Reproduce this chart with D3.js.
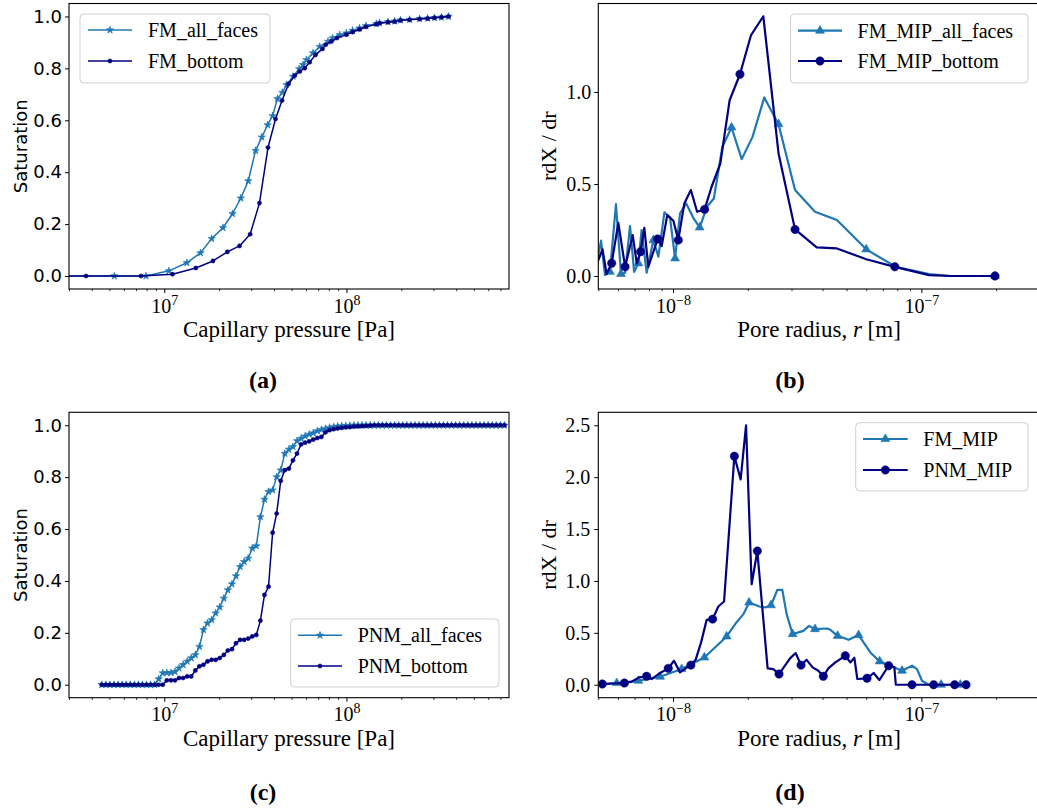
<!DOCTYPE html>
<html>
<head>
<meta charset="utf-8">
<script src="https://cdn.jsdelivr.net/npm/d3@7"></script>
<style>
  body { margin: 0; background: #fff; }
  svg { display: block; }
</style>
</head>
<body>
<svg id="fig" width="1037" height="809"></svg>
<script>
// ---------------- (a) FM drainage curves ----------------
const fmAllP = [0, 5.32e6, 7.94e6, 1.06e7, 1.33e7, 1.58e7, 1.82e7, 2.10e7, 2.37e7, 2.63e7, 2.89e7, 3.17e7, 3.43e7, 3.69e7, 3.93e7, 4.18e7, 4.45e7, 4.69e7, 5.09e7, 5.50e7, 5.78e7, 6.03e7, 6.55e7, 7.13e7, 7.92e7, 8.40e7, 9.18e7, 9.99e7, 1.08e8, 1.18e8, 1.28e8, 1.46e8, 1.52e8, 1.69e8, 1.84e8, 1.98e8, 2.22e8, 2.52e8, 2.79e8, 3.04e8, 3.32e8, 3.63e8];
const fmAllS = [0, 0, 0, 0.020, 0.051, 0.089, 0.144, 0.186, 0.240, 0.300, 0.366, 0.483, 0.535, 0.582, 0.617, 0.683, 0.707, 0.737, 0.769, 0.798, 0.814, 0.833, 0.859, 0.884, 0.904, 0.917, 0.929, 0.936, 0.946, 0.955, 0.964, 0.972, 0.975, 0.979, 0.982, 0.986, 0.988, 0.991, 0.993, 0.995, 0.997, 1.000];
const fmBotP = [0, 3.72e6, 7.45e6, 1.11e7, 1.49e7, 1.85e7, 2.22e7, 2.59e7, 2.96e7, 3.33e7, 3.71e7, 4.08e7, 4.43e7, 4.81e7, 5.20e7, 5.54e7, 5.90e7, 6.28e7, 6.76e7, 7.38e7, 7.69e7, 8.27e7, 8.87e7, 9.99e7, 1.08e8, 1.18e8, 1.28e8, 1.46e8, 1.52e8, 1.69e8, 1.84e8, 1.98e8, 2.22e8, 2.52e8, 2.79e8, 3.04e8, 3.32e8, 3.63e8];
const fmBotS = [0, 0, 0, 0.007, 0.031, 0.058, 0.093, 0.116, 0.161, 0.281, 0.495, 0.605, 0.676, 0.740, 0.772, 0.788, 0.801, 0.824, 0.852, 0.875, 0.891, 0.904, 0.917, 0.930, 0.940, 0.950, 0.960, 0.970, 0.974, 0.978, 0.980, 0.985, 0.987, 0.990, 0.992, 0.995, 0.997, 1.000];

// ---------------- (b) FM pore-size distributions ----------------
const fmMipAllR = [4.9e-9, 5.13e-9, 5.32e-9, 5.57e-9, 5.89e-9, 6.17e-9, 6.41e-9, 6.71e-9, 6.97e-9, 7.25e-9, 7.47e-9, 7.83e-9, 8.33e-9, 8.73e-9, 9.23e-9, 9.72e-9, 1.019e-8, 1.067e-8, 1.13e-8, 1.21e-8, 1.28e-8, 1.37e-8, 1.46e-8, 1.58e-8, 1.72e-8, 1.89e-8, 2.09e-8, 2.33e-8, 2.66e-8, 3.10e-8, 3.73e-8, 4.57e-8, 6.00e-8, 7.88e-8, 1.075e-7, 1.31e-7, 1.98e-7];
const fmMipAllY = [0.050, 0.192, 0.005, 0.023, 0.391, 0.011, 0.018, 0.271, 0.023, 0.069, 0.250, 0.018, 0.195, 0.105, 0.346, 0.318, 0.096, 0.340, 0.394, 0.313, 0.264, 0.376, 0.421, 0.702, 0.807, 0.635, 0.756, 0.970, 0.825, 0.467, 0.349, 0.304, 0.145, 0.050, 0.011, 0.000, 0.000];
const fmMipAllMarks = [3, 5, 9, 12, 16, 20, 24, 28, 32, 36];
const fmMipBotR = [4.9e-9, 5.20e-9, 5.40e-9, 5.66e-9, 6.02e-9, 6.41e-9, 6.88e-9, 7.14e-9, 7.40e-9, 7.66e-9, 7.95e-9, 8.67e-9, 9.00e-9, 9.48e-9, 1.003e-8, 1.05e-8, 1.11e-8, 1.18e-8, 1.25e-8, 1.34e-8, 1.43e-8, 1.55e-8, 1.69e-8, 1.86e-8, 2.06e-8, 2.31e-8, 2.66e-8, 3.10e-8, 3.79e-8, 4.57e-8, 6.00e-8, 7.82e-8, 1.075e-7, 1.31e-7, 1.98e-7];
const fmMipBotY = [0.055, 0.145, 0.011, 0.069, 0.289, 0.050, 0.222, 0.069, 0.132, 0.262, 0.050, 0.201, 0.163, 0.331, 0.300, 0.195, 0.394, 0.467, 0.349, 0.362, 0.485, 0.611, 0.955, 1.096, 1.308, 1.411, 0.666, 0.253, 0.156, 0.150, 0.091, 0.050, 0.005, 0.000, 0.000];
const fmMipBotMarks = [3, 5, 8, 11, 15, 19, 23, 27, 31, 34];

// ---------------- (c) PNM drainage curves ----------------
const pnmP = [4.54e6, 4.78e6, 5.03e6, 5.30e6, 5.58e6, 5.87e6, 6.18e6, 6.51e6, 6.85e6, 7.21e6,
  7.59e6, 7.99e6, 8.41e6, 8.86e6, 9.32e6, 9.81e6, 1.033e7, 1.088e7, 1.145e7, 1.205e7,
  1.269e7, 1.336e7, 1.406e7, 1.481e7, 1.559e7, 1.641e7, 1.727e7, 1.820e7, 1.915e7, 2.016e7,
  2.122e7, 2.234e7, 2.352e7, 2.476e7, 2.606e7, 2.744e7, 2.888e7, 3.041e7, 3.201e7, 3.370e7,
  3.548e7, 3.735e7, 3.932e7, 4.139e7, 4.357e7, 4.587e7, 4.829e7, 5.084e7, 5.352e7, 5.634e7,
  5.931e7, 6.244e7, 6.574e7, 6.920e7, 7.285e7, 7.670e7, 8.074e7, 8.500e7, 8.949e7, 9.420e7,
  9.917e7, 1.044e8, 1.099e8, 1.157e8, 1.218e8, 1.282e8, 1.350e8, 1.421e8, 1.496e8, 1.575e8,
  1.658e8, 1.746e8, 1.838e8, 1.935e8, 2.037e8, 2.144e8, 2.257e8, 2.376e8, 2.502e8, 2.634e8,
  2.772e8, 2.919e8, 3.073e8, 3.236e8, 3.405e8, 3.585e8, 3.774e8, 3.973e8, 4.183e8, 4.403e8,
  4.636e8, 4.880e8, 5.137e8, 5.408e8, 5.694e8, 5.994e8, 6.310e8, 6.643e8, 6.990e8, 7.362e8];
const pnmAllS = [0, 0, 0, 0, 0, 0, 0, 0, 0, 0,
  0, 0, 0, 0, 0.022, 0.045, 0.046, 0.046, 0.050, 0.064,
  0.077, 0.090, 0.103, 0.115, 0.147, 0.212, 0.237, 0.250, 0.276, 0.299,
  0.333, 0.365, 0.388, 0.419, 0.455, 0.474, 0.487, 0.526, 0.535, 0.647,
  0.714, 0.744, 0.750, 0.801, 0.827, 0.891, 0.907, 0.917, 0.940, 0.949,
  0.958, 0.965, 0.970, 0.978, 0.983, 0.987, 0.991, 0.994, 0.996, 0.997,
  0.998, 0.999, 1, 1, 1, 1, 1, 1, 1, 1,
  1, 1, 1, 1, 1, 1, 1, 1, 1, 1,
  1, 1, 1, 1, 1, 1, 1, 1, 1, 1,
  1, 1, 1, 1, 1, 1, 1, 1, 1, 1];
const pnmBotS = [0, 0, 0, 0, 0, 0, 0, 0, 0, 0,
  0, 0, 0, 0, 0, 0, 0.017, 0.017, 0.017, 0.026,
  0.026, 0.032, 0.032, 0.055, 0.071, 0.077, 0.090, 0.096, 0.096, 0.103,
  0.115, 0.132, 0.137, 0.160, 0.173, 0.173, 0.178, 0.186, 0.192, 0.247,
  0.346, 0.378, 0.586, 0.660, 0.786, 0.827, 0.833, 0.865, 0.891, 0.926,
  0.933, 0.938, 0.945, 0.951, 0.955, 0.973, 0.981, 0.985, 0.988, 0.990,
  0.992, 0.993, 0.995, 0.996, 0.997, 0.998, 0.999, 1, 1, 1,
  1, 1, 1, 1, 1, 1, 1, 1, 1, 1,
  1, 1, 1, 1, 1, 1, 1, 1, 1, 1,
  1, 1, 1, 1, 1, 1, 1, 1, 1, 1];

// ---------------- (d) FM vs PNM pore-size distributions ----------------
const mipFmR = [5.19e-9, 5.93e-9, 7.25e-9, 8.87e-9, 1.083e-8, 1.337e-8, 1.644e-8, 1.80e-8, 1.92e-8, 2.024e-8, 2.226e-8, 2.347e-8, 2.481e-8, 2.630e-8, 2.755e-8, 2.867e-8, 3.031e-8, 3.348e-8, 3.530e-8, 3.731e-8, 4.17e-8, 4.301e-8, 4.602e-8, 5.095e-8, 5.590e-8, 6.232e-8, 6.794e-8, 7.502e-8, 8.362e-8, 9.174e-8, 9.610e-8, 1.006e-7, 1.070e-7, 1.201e-7, 1.436e-7, 1.514e-7];
const mipFmY = [0.005, 0.016, 0.038, 0.077, 0.151, 0.263, 0.465, 0.600, 0.680, 0.792, 0.754, 0.744, 0.766, 0.913, 0.913, 0.680, 0.488, 0.519, 0.567, 0.536, 0.542, 0.529, 0.471, 0.433, 0.478, 0.311, 0.225, 0.183, 0.135, 0.183, 0.151, 0.038, 0.000, 0.000, 0.000, 0.000];
const mipFmMarks = [1, 2, 3, 4, 5, 6, 9, 12, 16, 19, 22, 24, 26, 28, 33, 34];
const mipPnmR = [5.19e-9, 5.75e-9, 6.37e-9, 6.81e-9, 7.30e-9, 7.83e-9, 8.20e-9, 8.73e-9, 9.57e-9, 1.009e-8, 1.067e-8, 1.124e-8, 1.180e-8, 1.233e-8, 1.297e-8, 1.366e-8, 1.443e-8, 1.522e-8, 1.605e-8, 1.766e-8, 1.872e-8, 1.968e-8, 2.073e-8, 2.185e-8, 2.404e-8, 2.534e-8, 2.672e-8, 2.959e-8, 3.117e-8, 3.277e-8, 3.452e-8, 3.649e-8, 3.847e-8, 4.030e-8, 4.222e-8, 4.505e-8, 4.941e-8, 5.176e-8, 5.372e-8, 5.524e-8, 6.044e-8, 6.426e-8, 6.774e-8, 7.384e-8, 7.785e-8, 7.893e-8, 9.174e-8, 1.121e-7, 1.362e-7, 1.514e-7];
const mipPnmY = [0.007, 0.012, 0.016, 0.029, 0.071, 0.081, 0.055, 0.103, 0.158, 0.231, 0.119, 0.158, 0.189, 0.240, 0.408, 0.625, 0.632, 0.754, 0.802, 2.202, 1.978, 2.500, 0.968, 1.288, 0.158, 0.151, 0.103, 0.254, 0.305, 0.189, 0.240, 0.167, 0.135, 0.081, 0.158, 0.215, 0.279, 0.215, 0.260, 0.055, 0.062, 0.113, 0.045, 0.183, 0.170, 0.000, 0.000, 0.000, 0.000, 0.000];
const mipPnmMarks = [0, 2, 5, 8, 12, 16, 19, 23, 26, 29, 33, 36, 40, 43, 46, 47, 48, 49];

// ---------------- styling ----------------
const LIGHT = "#1f77b4";
const DARK = "#000080";
const SERIF = "'Liberation Serif', 'Times New Roman', serif";
const SANS = "'DejaVu Sans', sans-serif";

const svg = d3.select("#fig");
const defs = svg.append("defs");

function markerPath(type) {
  if (type === "star") return d3.symbol(d3.symbolStar, 17)();
  if (type === "tri") return d3.symbol(d3.symbolTriangle, 34)();
  return null;
}

function drawMarkers(g, pts, type, color) {
  if (type === "dot" || type === "circle") {
    g.selectAll(null).data(pts).join("circle")
      .attr("cx", d => d[0]).attr("cy", d => d[1])
      .attr("r", type === "dot" ? 2.1 : 4.2)
      .attr("fill", color).attr("stroke", color).attr("stroke-width", 0.5);
  } else {
    const p = markerPath(type);
    g.selectAll(null).data(pts).join("path")
      .attr("d", p)
      .attr("transform", d => `translate(${d[0]},${d[1]})`)
      .attr("fill", color).attr("stroke", color).attr("stroke-width", 0.6);
  }
}

function expLabel(sel, v) {
  const e = Math.round(Math.log10(v));
  sel.text(null);
  sel.append("tspan").text("10");
  sel.append("tspan").attr("dy", -8).attr("font-size", 14)
    .text(e < 0 ? "\u2212" + (-e) : String(e));
}

function minorTicks(domain) {
  const lo = Math.floor(Math.log10(domain[0]));
  const hi = Math.ceil(Math.log10(domain[1]));
  const out = [];
  for (let k = lo; k <= hi; k++) {
    for (let m = 2; m <= 9; m++) {
      const v = m * Math.pow(10, k);
      if (v >= domain[0] && v <= domain[1]) out.push(v);
    }
  }
  return out;
}

function drawPanel(p) {
  const g = svg.append("g");
  const x = d3.scaleLog().domain(p.xDomain).range([p.left, p.right]);
  const y = d3.scaleLinear().domain(p.yDomain).range([p.bottom, p.top]);
  // non-positive values on a log axis run off to the left edge
  const px = v => (v > 0 ? x(v) : p.left - 2000);

  const clipId = "clip-" + p.id;
  defs.append("clipPath").attr("id", clipId).append("rect")
    .attr("x", p.left).attr("y", p.top)
    .attr("width", p.right - p.left).attr("height", p.bottom - p.top);

  const plot = g.append("g").attr("clip-path", `url(#${clipId})`);
  p.series.forEach(s => {
    const pts = s.xs.map((v, i) => [v, s.ys[i]]);
    plot.append("path").datum(pts)
      .attr("fill", "none").attr("stroke", s.color)
      .attr("stroke-width", p.lw).attr("stroke-linejoin", "round")
      .attr("d", d3.line().x(d => px(d[0])).y(d => y(d[1])));
    const sel = (s.marks ? s.marks.map(i => pts[i]) : pts).filter(d => d[0] > 0);
    drawMarkers(plot, sel.map(d => [x(d[0]), y(d[1])]), s.marker, s.color);
  });

  // axes frame
  g.append("rect")
    .attr("x", p.left).attr("y", p.top)
    .attr("width", p.right - p.left).attr("height", p.bottom - p.top)
    .attr("fill", "none").attr("stroke", "#000").attr("stroke-width", 1.1);

  // x axis: minor ticks
  const xMinor = g.append("g").attr("transform", `translate(0,${p.bottom})`)
    .call(d3.axisBottom(x).tickValues(minorTicks(p.xDomain)).tickSize(2.2).tickSizeOuter(0).tickFormat(() => ""));
  xMinor.select(".domain").remove();
  xMinor.selectAll("line").attr("stroke-width", 0.8);

  // x axis: major ticks with power-of-ten labels
  const xMajor = g.append("g").attr("transform", `translate(0,${p.bottom})`)
    .call(d3.axisBottom(x).tickValues(p.xMajor).tickSize(4).tickSizeOuter(0));
  xMajor.select(".domain").remove();
  xMajor.selectAll("line").attr("stroke-width", 1);
  xMajor.selectAll("text")
    .attr("y", 23.5).attr("dy", null)
    .attr("font-family", SERIF).attr("font-size", 20).attr("fill", "#000")
    .each(function (v) { expLabel(d3.select(this), v); });

  // y axis
  const yAx = g.append("g").attr("transform", `translate(${p.left},0)`)
    .call(d3.axisLeft(y).tickValues(p.yTicks).tickSize(4).tickSizeOuter(0)
      .tickPadding(p.yPad).tickFormat(d3.format(".1f")));
  yAx.select(".domain").remove();
  yAx.selectAll("line").attr("stroke-width", 1);
  yAx.selectAll("text")
    .attr("font-family", p.yFont).attr("font-size", p.yFontSize).attr("fill", "#000");

  // axis titles
  const xl = g.append("text")
    .attr("x", (p.left + p.right) / 2).attr("y", p.bottom + 48)
    .attr("text-anchor", "middle")
    .attr("font-family", SERIF).attr("font-size", 23).attr("fill", "#000");
  p.xlabel.forEach(part => {
    xl.append("tspan").attr("font-style", part.italic ? "italic" : null).text(part.t);
  });

  g.append("text")
    .attr("transform", `translate(${p.ylabelX},${(p.top + p.bottom) / 2}) rotate(-90)`)
    .attr("text-anchor", "middle")
    .attr("font-family", p.ylabelFont).attr("font-size", p.ylabelSize).attr("fill", "#000")
    .text(p.ylabel);

  // caption
  g.append("text")
    .attr("x", p.captionX).attr("y", p.captionY)
    .attr("text-anchor", "middle")
    .attr("font-family", SERIF).attr("font-weight", "bold").attr("font-size", 24).attr("fill", "#000")
    .text(p.caption);

  // legend
  const L = p.legend;
  const lg = g.append("g");
  lg.append("rect")
    .attr("x", L.x).attr("y", L.y).attr("width", L.w).attr("height", L.h)
    .attr("rx", 4).attr("ry", 4)
    .attr("fill", "#fff").attr("fill-opacity", 0.8)
    .attr("stroke", "#cfcfcf").attr("stroke-width", 1);
  p.series.forEach((s, i) => {
    const ry = L.rows[i];
    lg.append("line")
      .attr("x1", L.line[0]).attr("x2", L.line[1]).attr("y1", ry).attr("y2", ry)
      .attr("stroke", s.color).attr("stroke-width", p.lw);
    drawMarkers(lg, [[(L.line[0] + L.line[1]) / 2, ry]], s.marker, s.color);
    lg.append("text")
      .attr("x", L.textX).attr("y", ry + 7)
      .attr("font-family", SERIF).attr("font-size", 20).attr("fill", "#000")
      .text(s.label);
  });
}

const satTicks = [0, 0.2, 0.4, 0.6, 0.8, 1.0];
const pressureLabel = [{ t: "Capillary pressure [Pa]" }];
const radiusLabel = [{ t: "Pore radius, " }, { t: "r", italic: true }, { t: " [m]" }];

drawPanel({
  id: "a", left: 69, right: 509, top: 3.5, bottom: 289,
  xDomain: [3.0e6, 7.8e8], yDomain: [-0.05, 1.05],
  xMajor: [1e7, 1e8], yTicks: satTicks, yPad: 3, yFont: SANS, yFontSize: 18,
  lw: 1.5,
  series: [
    { label: "FM_all_faces", xs: fmAllP, ys: fmAllS, color: LIGHT, marker: "star" },
    { label: "FM_bottom", xs: fmBotP, ys: fmBotS, color: DARK, marker: "dot" }
  ],
  xlabel: pressureLabel, ylabel: "Saturation", ylabelFont: SANS, ylabelSize: 18, ylabelX: 27,
  caption: "(a)", captionX: 263, captionY: 388,
  legend: { x: 80, y: 14, w: 190, h: 69, line: [88, 132], textX: 148, rows: [30, 61] }
});

drawPanel({
  id: "b", left: 598.3, right: 1039.8, top: 3.5, bottom: 289,
  xDomain: [5e-9, 3e-7], yDomain: [-0.0705, 1.4805],
  xMajor: [1e-8, 1e-7], yTicks: [0, 0.5, 1.0], yPad: 3, yFont: SERIF, yFontSize: 20,
  lw: 2.2,
  series: [
    { label: "FM_MIP_all_faces", xs: fmMipAllR, ys: fmMipAllY, marks: fmMipAllMarks, color: LIGHT, marker: "tri" },
    { label: "FM_MIP_bottom", xs: fmMipBotR, ys: fmMipBotY, marks: fmMipBotMarks, color: DARK, marker: "circle" }
  ],
  xlabel: radiusLabel, ylabel: "rdX / dr", ylabelFont: SERIF, ylabelSize: 22, ylabelX: 556,
  caption: "(b)", captionX: 790, captionY: 388,
  legend: { x: 790.5, y: 14, w: 237.5, h: 69, line: [798, 842], textX: 857.6, rows: [30.7, 61] }
});

drawPanel({
  id: "c", left: 69, right: 509, top: 412.3, bottom: 697.7,
  xDomain: [3.0e6, 7.8e8], yDomain: [-0.05, 1.05],
  xMajor: [1e7, 1e8], yTicks: satTicks, yPad: 3, yFont: SANS, yFontSize: 18,
  lw: 1.5,
  series: [
    { label: "PNM_all_faces", xs: pnmP, ys: pnmAllS, color: LIGHT, marker: "star" },
    { label: "PNM_bottom", xs: pnmP, ys: pnmBotS, color: DARK, marker: "dot" }
  ],
  xlabel: pressureLabel, ylabel: "Saturation", ylabelFont: SANS, ylabelSize: 18, ylabelX: 27,
  caption: "(c)", captionX: 263, captionY: 800,
  legend: { x: 290.7, y: 619, w: 208.3, h: 68, line: [298, 342], textX: 357.7, rows: [635.3, 666] }
});

drawPanel({
  id: "d", left: 598.3, right: 1039.8, top: 412.3, bottom: 697.7,
  xDomain: [5e-9, 3e-7], yDomain: [-0.125, 2.625],
  xMajor: [1e-8, 1e-7], yTicks: [0, 0.5, 1.0, 1.5, 2.0, 2.5], yPad: 4, yFont: SERIF, yFontSize: 20,
  lw: 2.2,
  series: [
    { label: "FM_MIP", xs: mipFmR, ys: mipFmY, marks: mipFmMarks, color: LIGHT, marker: "tri" },
    { label: "PNM_MIP", xs: mipPnmR, ys: mipPnmY, marks: mipPnmMarks, color: DARK, marker: "circle" }
  ],
  xlabel: radiusLabel, ylabel: "rdX / dr", ylabelFont: SERIF, ylabelSize: 22, ylabelX: 556,
  caption: "(d)", captionX: 790, captionY: 800,
  legend: { x: 855.7, y: 422.7, w: 172.3, h: 68.3, line: [863, 907.7], textX: 923.3, rows: [439, 470] }
});
</script>
</body>
</html>
